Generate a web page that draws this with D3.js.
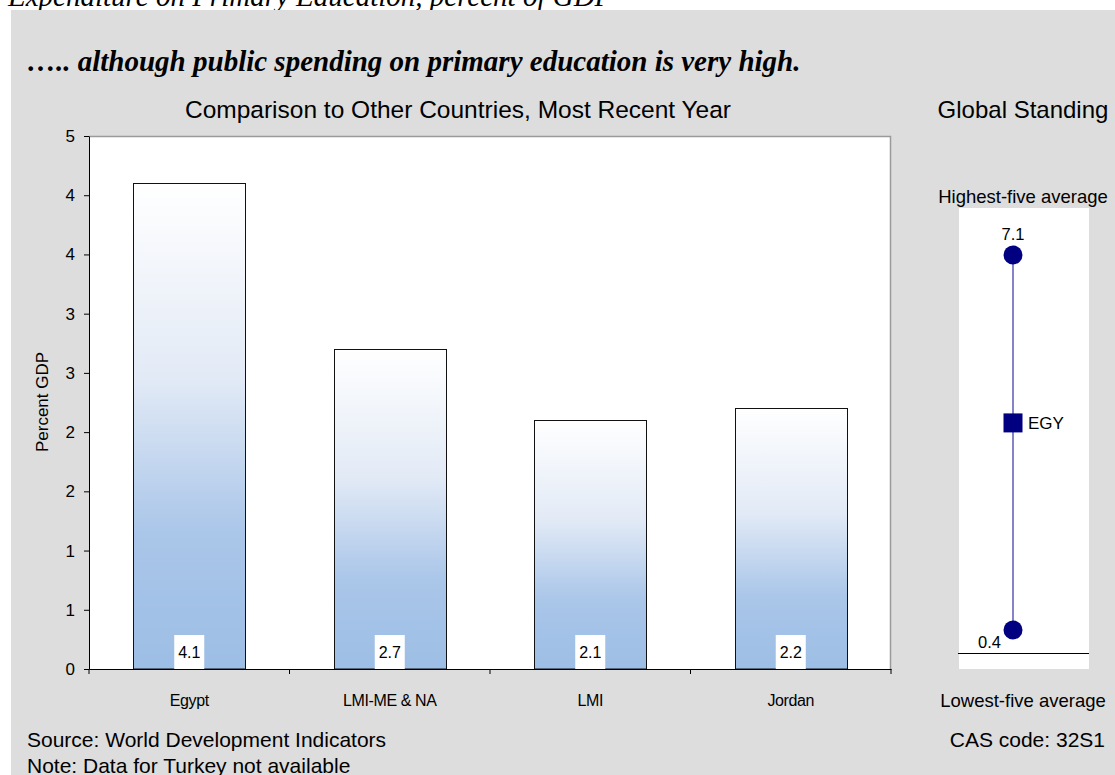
<!DOCTYPE html>
<html>
<head>
<meta charset="utf-8">
<script src="https://cdn.jsdelivr.net/npm/d3@7"></script>
<style>
  html, body { margin: 0; padding: 0; background: #fff; }
  svg { display: block; }
</style>
</head>
<body>
<svg id="chart" width="1115" height="775"></svg>
<script>
// Public spending on primary education, percent of GDP
const categories = ["Egypt", "LMI-ME & NA", "LMI", "Jordan"];
const values = [4.1, 2.7, 2.1, 2.2];
const yTickValues = [0, 0.5, 1, 1.5, 2, 2.5, 3, 3.5, 4, 4.5];
const yTickLabels = ["0", "1", "1", "2", "2", "3", "3", "4", "4", "5"];

// Global standing: averages of the five highest / lowest countries, and Egypt
const standingLabels = ["Highest-five average", "Lowest-five average"];
const highestFive = 7.1;
const lowestFive = 0.4;
const countryCode = "EGY";
const countryValue = 4.1;

const svg = d3.select("#chart");
const sans = "'Liberation Sans', Arial, sans-serif";
const serif = "'Liberation Serif', 'Times New Roman', serif";

// Gradient used to fill the bars
const defs = svg.append("defs");
const grad = defs.append("linearGradient")
  .attr("id", "barFill").attr("x1", 0).attr("y1", 0).attr("x2", 0).attr("y2", 1);
grad.append("stop").attr("offset", "0%").attr("stop-color", "#ffffff");
grad.append("stop").attr("offset", "40%").attr("stop-color", "#e2eaf6");
grad.append("stop").attr("offset", "72%").attr("stop-color", "#aac6e9");
grad.append("stop").attr("offset", "100%").attr("stop-color", "#9dbee5");

// Page heading (partly above the frame)
svg.append("text")
  .attr("x", 8).attr("y", 6)
  .attr("font-family", serif).attr("font-style", "italic")
  .attr("font-size", 29).attr("fill", "#000")
  .text("Expenditure on Primary Education, percent of GDP");

// Grey panel
svg.append("rect")
  .attr("x", 11).attr("y", 10).attr("width", 1104).attr("height", 765)
  .attr("fill", "#dddddd");

svg.append("text")
  .attr("x", 27).attr("y", 71)
  .attr("font-family", serif).attr("font-style", "italic").attr("font-weight", "bold")
  .attr("font-size", 29).attr("fill", "#000")
  .text("….. although public spending on primary education is very high.");

svg.append("text")
  .attr("x", 458).attr("y", 118).attr("text-anchor", "middle")
  .attr("font-family", sans).attr("font-size", 24.5).attr("fill", "#000")
  .text("Comparison to Other Countries, Most Recent Year");

svg.append("text")
  .attr("x", 1023).attr("y", 118).attr("text-anchor", "middle")
  .attr("font-family", sans).attr("font-size", 24).attr("fill", "#000")
  .text("Global Standing");

// ---- Bar chart ----
const plot = { left: 89, right: 891, top: 136, bottom: 669 };

const x = d3.scaleBand()
  .domain(categories)
  .range([plot.left, plot.right])
  .paddingInner(0.44)
  .paddingOuter(0.22);

const y = d3.scaleLinear()
  .domain([0, 4.5])
  .range([plot.bottom, plot.top]);

svg.append("rect")
  .attr("x", plot.left).attr("y", plot.top)
  .attr("width", plot.right - plot.left).attr("height", plot.bottom - plot.top)
  .attr("fill", "#fff");
// top and right frame edges
svg.append("path")
  .attr("d", `M${plot.left},${plot.top + 0.5}H${plot.right - 0.5}V${plot.bottom}`)
  .attr("fill", "none").attr("stroke", "#9a9a9a").attr("stroke-width", 1.5);

svg.append("g").selectAll("rect")
  .data(values)
  .join("rect")
  .attr("x", (d, i) => Math.round(x(categories[i])) + 0.5)
  .attr("y", d => Math.round(y(d)) + 0.5)
  .attr("width", Math.round(x.bandwidth()))
  .attr("height", d => y(0) - Math.round(y(d)) - 0.5)
  .attr("fill", "url(#barFill)")
  .attr("stroke", "#111").attr("stroke-width", 1);

// value boxes at the foot of each bar
const vbox = svg.append("g").selectAll("g")
  .data(values)
  .join("g")
  .attr("transform", (d, i) => `translate(${x(categories[i]) + x.bandwidth() / 2},${plot.bottom})`);
vbox.append("rect")
  .attr("x", -15).attr("y", -34).attr("width", 30).attr("height", 34)
  .attr("fill", "#fff");
vbox.append("text")
  .attr("y", -11).attr("text-anchor", "middle")
  .attr("font-family", sans).attr("font-size", 16).attr("fill", "#000")
  .text(d => d.toFixed(1));

// Y axis
const yAxis = svg.append("g")
  .attr("transform", `translate(${plot.left},0)`)
  .call(d3.axisLeft(y)
    .tickValues(yTickValues)
    .tickFormat((d, i) => yTickLabels[i])
    .tickSize(5).tickSizeOuter(0).tickPadding(9));
yAxis.select(".domain").attr("stroke", "#000");
yAxis.selectAll(".tick line").attr("stroke", "#000");
yAxis.selectAll(".tick text")
  .attr("font-family", sans).attr("font-size", 17).attr("fill", "#000");

// X axis with ticks between categories
const xAxis = svg.append("g")
  .attr("transform", `translate(0,${plot.bottom})`)
  .call(d3.axisBottom(x).tickSize(0).tickSizeOuter(0));
xAxis.select(".domain").attr("stroke", "#000");
xAxis.selectAll(".tick text")
  .attr("y", 37).attr("dy", null)
  .attr("font-family", sans).attr("font-size", 16).attr("fill", "#000")
  .attr("letter-spacing", "-0.4px");
xAxis.selectAll(".sep")
  .data(d3.range(categories.length + 1))
  .join("line")
  .attr("x1", i => plot.left + i * (plot.right - plot.left) / categories.length)
  .attr("x2", i => plot.left + i * (plot.right - plot.left) / categories.length)
  .attr("y1", 0).attr("y2", 5)
  .attr("stroke", "#000");

svg.append("text")
  .attr("transform", "translate(48,402) rotate(-90)")
  .attr("text-anchor", "middle")
  .attr("font-family", sans).attr("font-size", 17).attr("fill", "#000")
  .text("Percent GDP");

// ---- Global standing ----
const panel = { left: 959, right: 1089, top: 208, bottom: 669 };
const cx = 1013;
const s = d3.scaleLinear().domain([lowestFive, highestFive]).range([630, 255]);

svg.append("rect")
  .attr("x", panel.left).attr("y", panel.top)
  .attr("width", panel.right - panel.left).attr("height", panel.bottom - panel.top)
  .attr("fill", "#fff");

svg.append("line")
  .attr("x1", panel.left - 1).attr("x2", panel.right)
  .attr("y1", 653.5).attr("y2", 653.5)
  .attr("stroke", "#000").attr("stroke-width", 1);

svg.append("line")
  .attr("x1", cx).attr("x2", cx)
  .attr("y1", s(highestFive)).attr("y2", s(lowestFive))
  .attr("stroke", "#3333a0").attr("stroke-width", 1.2);

svg.append("g").selectAll("circle")
  .data([highestFive, lowestFive])
  .join("circle")
  .attr("cx", cx).attr("cy", d => s(d)).attr("r", 9.5)
  .attr("fill", "#000080");

svg.append("rect")
  .attr("x", cx - 9.5).attr("y", s(countryValue) - 9.5)
  .attr("width", 19).attr("height", 19)
  .attr("fill", "#000080");

svg.append("text")
  .attr("x", cx + 15).attr("y", s(countryValue) + 6)
  .attr("font-family", sans).attr("font-size", 17).attr("fill", "#000")
  .text(countryCode);

svg.append("text")
  .attr("x", cx).attr("y", s(highestFive) - 15).attr("text-anchor", "middle")
  .attr("font-family", sans).attr("font-size", 16.5).attr("fill", "#000")
  .text(highestFive.toFixed(1));

svg.append("text")
  .attr("x", cx - 12).attr("y", s(lowestFive) + 18).attr("text-anchor", "end")
  .attr("font-family", sans).attr("font-size", 16.5).attr("fill", "#000")
  .text(lowestFive.toFixed(1));

svg.append("text")
  .attr("x", 1023).attr("y", 203).attr("text-anchor", "middle")
  .attr("font-family", sans).attr("font-size", 18.5).attr("fill", "#000")
  .text(standingLabels[0]);

svg.append("text")
  .attr("x", 1023).attr("y", 707).attr("text-anchor", "middle")
  .attr("font-family", sans).attr("font-size", 18.5).attr("fill", "#000")
  .text(standingLabels[1]);

// ---- Footer ----
svg.append("text")
  .attr("x", 27).attr("y", 747)
  .attr("font-family", sans).attr("font-size", 21).attr("fill", "#000")
  .text("Source: World Development Indicators");
svg.append("text")
  .attr("x", 27).attr("y", 773)
  .attr("font-family", sans).attr("font-size", 21).attr("fill", "#000")
  .text("Note: Data for Turkey not available");
svg.append("text")
  .attr("x", 1105).attr("y", 747).attr("text-anchor", "end")
  .attr("font-family", sans).attr("font-size", 21).attr("fill", "#000")
  .text("CAS code: 32S1");
</script>
</body>
</html>
